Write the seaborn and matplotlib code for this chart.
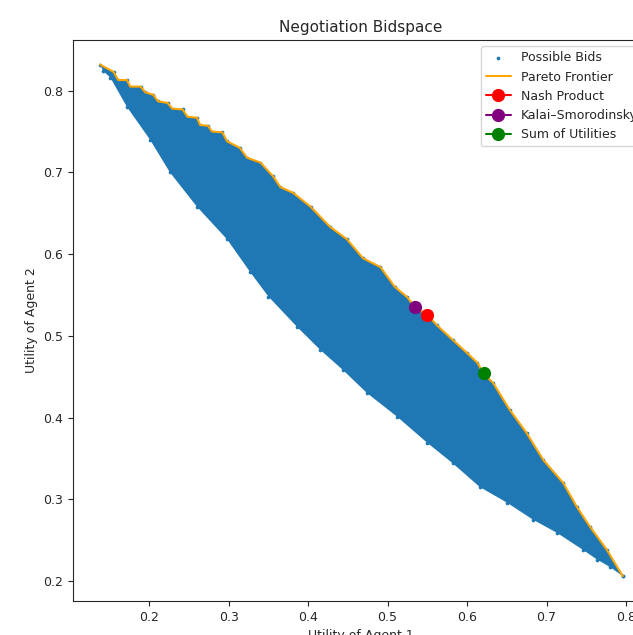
import numpy as np
import pandas as pd
import seaborn as sns
import matplotlib.pyplot as plt

# ========== DATA ==========
# Pareto frontier (upper edge of the bid cloud), agent 1 / agent 2 utility
pareto_u1 = [0.138, 0.155, 0.161, 0.172, 0.176, 0.189, 0.195, 0.205, 0.211, 0.223,
             0.229, 0.242, 0.248, 0.260, 0.264, 0.274, 0.279, 0.292, 0.298, 0.314,
             0.323, 0.340, 0.356, 0.365, 0.381, 0.403, 0.428, 0.449, 0.469, 0.491,
             0.509, 0.525, 0.535, 0.550, 0.562, 0.582, 0.600, 0.613, 0.620, 0.633,
             0.654, 0.675, 0.696, 0.721, 0.738, 0.755, 0.776, 0.796]
pareto_u2 = [0.832, 0.823, 0.813, 0.813, 0.805, 0.805, 0.798, 0.795, 0.787, 0.785,
             0.778, 0.777, 0.768, 0.767, 0.758, 0.757, 0.750, 0.749, 0.738, 0.730,
             0.718, 0.712, 0.695, 0.682, 0.675, 0.658, 0.633, 0.618, 0.595, 0.584,
             0.560, 0.547, 0.534, 0.526, 0.513, 0.495, 0.479, 0.467, 0.455, 0.442,
             0.409, 0.381, 0.348, 0.320, 0.291, 0.266, 0.238, 0.206]

# lower edge of the bid cloud
lower_u1 = [0.142, 0.151, 0.172, 0.201, 0.226, 0.260, 0.298, 0.327, 0.350, 0.386,
            0.415, 0.444, 0.474, 0.512, 0.550, 0.582, 0.616, 0.650, 0.683, 0.713,
            0.746, 0.764, 0.780, 0.796]
lower_u2 = [0.824, 0.816, 0.780, 0.740, 0.700, 0.658, 0.618, 0.578, 0.548, 0.511,
            0.483, 0.458, 0.430, 0.401, 0.369, 0.344, 0.315, 0.296, 0.275, 0.259,
            0.238, 0.226, 0.217, 0.206]

# solution points
solution_names = ["Nash Product", "Kalai–Smorodinsky", "Sum of Utilities"]
solution_u1 = [0.550, 0.535, 0.621]
solution_u2 = [0.525, 0.535, 0.455]
solution_colors = ["red", "purple", "green"]

# ========== PLOT ==========
sns.set_style("ticks")
plt.rcParams['font.family'] = ['DejaVu Sans']

df_pareto = pd.DataFrame({"u1": pareto_u1, "u2": pareto_u2})
df_lower = pd.DataFrame({"u1": lower_u1, "u2": lower_u2})
df_bids = pd.concat([df_pareto, df_lower], ignore_index=True)

fig = plt.figure(figsize=(6.33, 6.35), dpi=100)
# axes run past the right edge, as in the cropped reference
ax = fig.add_axes([0.1153, 0.0535, 0.91, 0.8835])

# bid cloud: filled region between frontier and lower edge, plus edge dots
ax.fill(list(pareto_u1) + list(lower_u1[::-1]),
        list(pareto_u2) + list(lower_u2[::-1]),
        color="#1f77b4", linewidth=0, zorder=1)
sns.scatterplot(data=df_bids, x="u1", y="u2", s=7, color="#1f77b4",
                linewidth=0, label="Possible Bids", ax=ax, zorder=2)

sns.lineplot(data=df_pareto, x="u1", y="u2", sort=False, estimator=None,
             color="orange", linewidth=1.5, label="Pareto Frontier", ax=ax, zorder=3)

for name, x, y, c in zip(solution_names, solution_u1, solution_u2, solution_colors):
    ax.plot([x], [y], marker="o", color=c, markersize=8.5, label=name, zorder=4)

ax.set_xlim(0.104, 0.829)
ax.set_ylim(0.1755, 0.862)
ax.set_xticks([0.2, 0.3, 0.4, 0.5, 0.6, 0.7, 0.8])
ax.set_yticks([0.2, 0.3, 0.4, 0.5, 0.6, 0.7, 0.8])
ax.tick_params(labelsize=9)

ax.set_title("Negotiation Bidspace", fontsize=11)
ax.set_xlabel("Utility of Agent 1", fontsize=9)
ax.set_ylabel("Utility of Agent 2", fontsize=9)

ax.legend(loc="upper right", fontsize=9, markerscale=1.0)

plt.savefig("out.png", dpi=100)
